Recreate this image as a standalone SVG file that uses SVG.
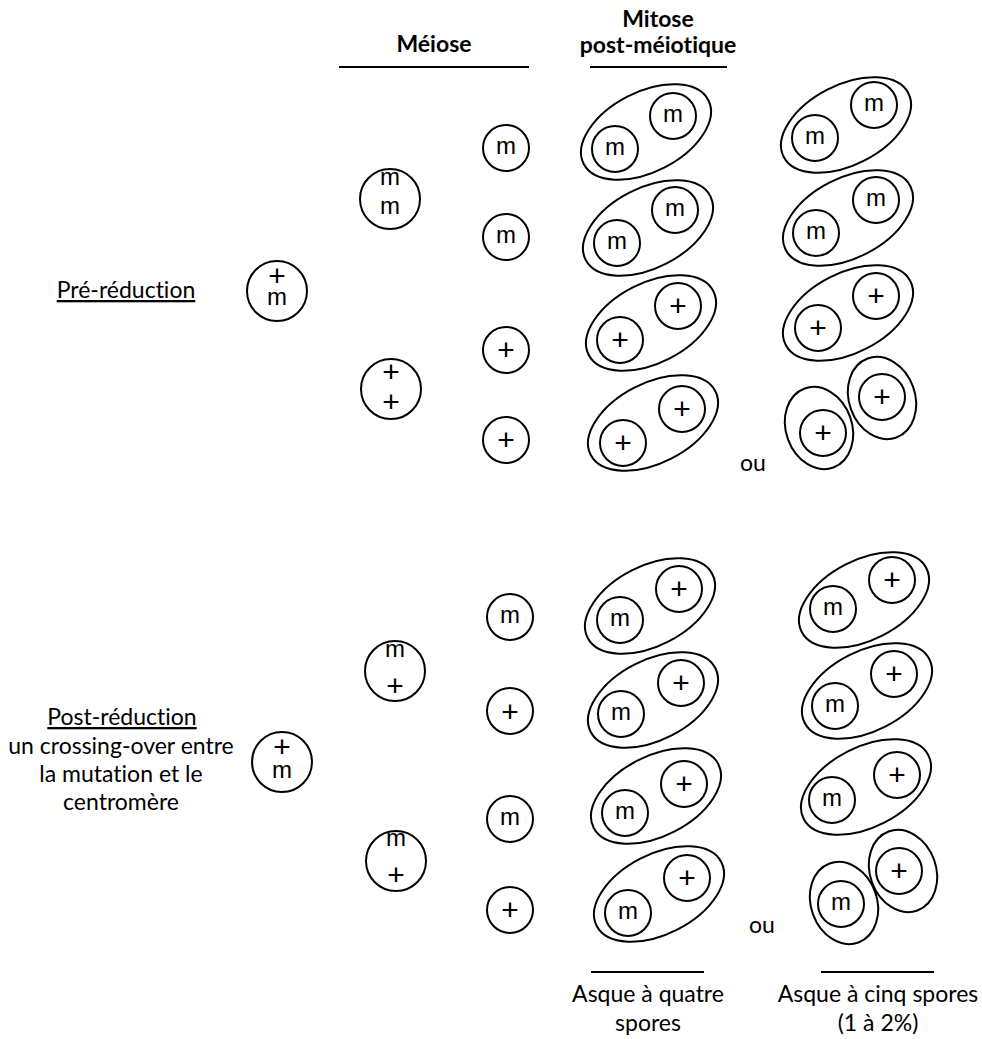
<svg xmlns="http://www.w3.org/2000/svg" width="982" height="1039" viewBox="0 0 982 1039">
<style>
.c{fill:#fff;stroke:#000;stroke-width:2}
.e{fill:none;stroke:#000;stroke-width:2}
.l{stroke:#000;stroke-width:2}
.g{font-family:"Liberation Sans",Arial,sans-serif;font-size:24px;text-anchor:middle;fill:#000}
.p{font-family:"Liberation Sans",Arial,sans-serif;font-size:30px;text-anchor:middle;fill:#000}
.t{font-family:Lato,"Open Sans",sans-serif;font-size:23px;text-anchor:middle;fill:#000;font-variant-ligatures:none}
.h{font-family:Lato,"Open Sans",sans-serif;font-size:23px;font-weight:bold;text-anchor:middle;fill:#000;font-variant-ligatures:none}
.u{text-decoration:underline}
</style>
<rect width="982" height="1039" fill="#fff"/>
<g id="headers">
<text class="h" x="434" y="52">Méiose</text>
<text class="h" x="658" y="27">Mitose</text>
<text class="h" x="658" y="53">post-méiotique</text>
</g>
<g id="rules">
<line class="l" x1="339" y1="67" x2="529" y2="67"/>
<line class="l" x1="590" y1="67" x2="727" y2="67"/>
<line class="l" x1="591" y1="972" x2="704" y2="972"/>
<line class="l" x1="821" y1="972" x2="934" y2="972"/>
</g>
<g id="connectors"></g>
<g id="labels">
<text class="t u" x="126" y="298">Pré-réduction</text>
<text class="t u" x="122" y="725">Post-réduction</text>
<text class="t" x="121" y="754">un crossing-over entre</text>
<text class="t" x="121" y="782">la mutation et le</text>
<text class="t" x="121" y="810">centromère</text>
<text class="t" x="753" y="471">ou</text>
<text class="t" x="762" y="933">ou</text>
<text class="t" x="648" y="1002">Asque à quatre</text>
<text class="t" x="648" y="1031">spores</text>
<text class="t" x="878" y="1002">Asque à cinq spores</text>
<text class="t" x="878" y="1031">(1 à 2%)</text>
</g>
<!-- top section -->
<g id="parent-pre"><circle class="c" cx="277" cy="291" r="30"/><text class="p" x="277" y="286">+<tspan class="g" x="277" y="305">m</tspan></text></g>
<g id="pre-mm"><circle class="c" cx="390" cy="199" r="30"/><text class="g" x="390" y="185">m</text><text class="g" x="390" y="214">m</text></g>
<g id="pre-pp"><circle class="c" cx="391" cy="389" r="30"/><text class="p" x="391" y="382">+</text><text class="p" x="391" y="412">+</text></g>
<g id="pre-s1"><circle class="c" cx="506" cy="148" r="23"/><text class="g" x="506" y="154">m</text></g>
<g id="pre-s2"><circle class="c" cx="506" cy="237" r="23"/><text class="g" x="506" y="243">m</text></g>
<g id="pre-s3"><circle class="c" cx="506" cy="350" r="23"/><text class="p" x="506" y="360">+</text></g>
<g id="pre-s4"><circle class="c" cx="506" cy="440" r="23"/><text class="p" x="506" y="450">+</text></g>
<g id="pre-a1"><ellipse class="e" cx="646" cy="132" rx="70" ry="40" transform="rotate(-27 646 132)"/><circle class="c" cx="615" cy="149" r="23"/><text class="g" x="615" y="155">m</text><circle class="c" cx="673" cy="116" r="23"/><text class="g" x="673" y="122">m</text></g>
<g id="pre-a2"><ellipse class="e" cx="648" cy="228" rx="70" ry="40" transform="rotate(-27 648 228)"/><circle class="c" cx="617" cy="243" r="23"/><text class="g" x="617" y="249">m</text><circle class="c" cx="675" cy="210" r="23"/><text class="g" x="675" y="216">m</text></g>
<g id="pre-a3"><ellipse class="e" cx="651" cy="323" rx="70" ry="40" transform="rotate(-27 651 323)"/><circle class="c" cx="620" cy="340" r="23"/><text class="p" x="620" y="350">+</text><circle class="c" cx="678" cy="306" r="23"/><text class="p" x="678" y="316">+</text></g>
<g id="pre-a4"><ellipse class="e" cx="653" cy="423" rx="70" ry="40" transform="rotate(-27 653 423)"/><circle class="c" cx="623" cy="443" r="23"/><text class="p" x="623" y="453">+</text><circle class="c" cx="682" cy="409" r="23"/><text class="p" x="682" y="419">+</text></g>
<g id="pre-b1"><ellipse class="e" cx="846" cy="125" rx="70" ry="40" transform="rotate(-27 846 125)"/><circle class="c" cx="815" cy="138" r="23"/><text class="g" x="815" y="144">m</text><circle class="c" cx="874" cy="105" r="23"/><text class="g" x="874" y="111">m</text></g>
<g id="pre-b2"><ellipse class="e" cx="848" cy="218" rx="70" ry="40" transform="rotate(-27 848 218)"/><circle class="c" cx="816" cy="233" r="23"/><text class="g" x="816" y="239">m</text><circle class="c" cx="876" cy="200" r="23"/><text class="g" x="876" y="206">m</text></g>
<g id="pre-b3"><ellipse class="e" cx="848" cy="313" rx="70" ry="40" transform="rotate(-27 848 313)"/><circle class="c" cx="818" cy="328" r="23"/><text class="p" x="818" y="338">+</text><circle class="c" cx="876" cy="296" r="23"/><text class="p" x="876" y="306">+</text></g>
<g id="pre-b4"><ellipse class="e" cx="819" cy="428" rx="33" ry="42" transform="rotate(-20 819 428)"/><circle class="c" cx="823" cy="433" r="23"/><text class="p" x="823" y="443">+</text></g>
<g id="pre-b5"><ellipse class="e" cx="882" cy="398" rx="33" ry="42" transform="rotate(-20 882 398)"/><circle class="c" cx="882" cy="397" r="23"/><text class="p" x="882" y="407">+</text></g>
<!-- bottom section -->
<g id="parent-post"><circle class="c" cx="282" cy="762" r="30"/><text class="p" x="282" y="757">+<tspan class="g" x="282" y="778">m</tspan></text></g>
<g id="post-mp1"><circle class="c" cx="395" cy="671" r="30"/><text class="g" x="395" y="657">m</text><text class="p" x="395" y="696">+</text></g>
<g id="post-mp2"><circle class="c" cx="396" cy="861" r="30"/><text class="g" x="396" y="846">m</text><text class="p" x="396" y="885">+</text></g>
<g id="post-s1"><circle class="c" cx="510" cy="617" r="23"/><text class="g" x="510" y="623">m</text></g>
<g id="post-s2"><circle class="c" cx="510" cy="711" r="23"/><text class="p" x="510" y="722">+</text></g>
<g id="post-s3"><circle class="c" cx="510" cy="819" r="23"/><text class="g" x="510" y="825">m</text></g>
<g id="post-s4"><circle class="c" cx="510" cy="910" r="23"/><text class="p" x="510" y="920">+</text></g>
<g id="post-a1"><ellipse class="e" cx="650" cy="606" rx="70" ry="40" transform="rotate(-27 650 606)"/><circle class="c" cx="620" cy="620" r="23"/><text class="g" x="620" y="626">m</text><circle class="c" cx="679" cy="589" r="23"/><text class="p" x="679" y="599">+</text></g>
<g id="post-a2"><ellipse class="e" cx="653" cy="700" rx="70" ry="40" transform="rotate(-27 653 700)"/><circle class="c" cx="621" cy="714" r="23"/><text class="g" x="621" y="720">m</text><circle class="c" cx="681" cy="683" r="23"/><text class="p" x="681" y="693">+</text></g>
<g id="post-a3"><ellipse class="e" cx="656" cy="796" rx="70" ry="40" transform="rotate(-27 656 796)"/><circle class="c" cx="625" cy="813" r="23"/><text class="g" x="625" y="819">m</text><circle class="c" cx="684" cy="784" r="23"/><text class="p" x="684" y="794">+</text></g>
<g id="post-a4"><ellipse class="e" cx="659" cy="894" rx="70" ry="40" transform="rotate(-27 659 894)"/><circle class="c" cx="628" cy="913" r="23"/><text class="g" x="628" y="919">m</text><circle class="c" cx="687" cy="878" r="23"/><text class="p" x="687" y="888">+</text></g>
<g id="post-b1"><ellipse class="e" cx="864" cy="600" rx="70" ry="40" transform="rotate(-27 864 600)"/><circle class="c" cx="833" cy="609" r="23"/><text class="g" x="833" y="615">m</text><circle class="c" cx="892" cy="580" r="23"/><text class="p" x="892" y="590">+</text></g>
<g id="post-b2"><ellipse class="e" cx="867" cy="691" rx="70" ry="40" transform="rotate(-27 867 691)"/><circle class="c" cx="835" cy="706" r="23"/><text class="g" x="835" y="712">m</text><circle class="c" cx="894" cy="674" r="23"/><text class="p" x="894" y="684">+</text></g>
<g id="post-b3"><ellipse class="e" cx="866" cy="787" rx="70" ry="40" transform="rotate(-27 866 787)"/><circle class="c" cx="832" cy="800" r="23"/><text class="g" x="832" y="806">m</text><circle class="c" cx="897" cy="775" r="23"/><text class="p" x="897" y="785">+</text></g>
<g id="post-b4"><ellipse class="e" cx="844" cy="903" rx="33" ry="42" transform="rotate(-20 844 903)"/><circle class="c" cx="841" cy="904" r="23"/><text class="g" x="841" y="910">m</text></g>
<g id="post-b5"><ellipse class="e" cx="903" cy="871" rx="33" ry="42" transform="rotate(-20 903 871)"/><circle class="c" cx="899" cy="871" r="23"/><text class="p" x="899" y="881">+</text></g>
</svg>
